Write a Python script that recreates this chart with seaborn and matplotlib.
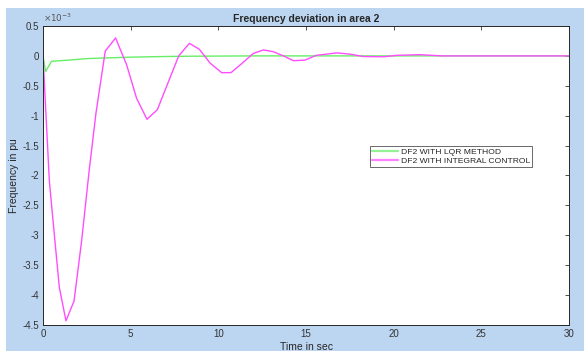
import numpy as np
import pandas as pd
import matplotlib
matplotlib.use("Agg")
import matplotlib.pyplot as plt
import seaborn as sns
from matplotlib.ticker import FuncFormatter
from matplotlib.patches import Rectangle

# -------------------------------
# Data (units of 1e-3 pu)
# -------------------------------
t_int = [0.0, 0.36, 0.49, 0.93, 1.31, 1.77, 2.2, 2.64, 3.02, 3.55, 4.14, 4.77, 5.34,
         5.93, 6.52, 7.74, 8.35, 8.92, 9.53, 10.19, 10.72, 11.33, 11.99, 12.57,
         13.14, 13.71, 14.28, 14.94, 15.6, 16.75, 17.5, 18.27, 19.4, 20.2, 21.5,
         22.8, 25.0, 30.0]
df_int = [0.0, -2.08, -2.5, -3.87, -4.43, -4.1, -3.1, -1.9, -0.96, 0.08, 0.3, -0.15,
          -0.71, -1.06, -0.9, 0.0, 0.21, 0.11, -0.12, -0.28, -0.28, -0.13, 0.04,
          0.1, 0.07, 0.0, -0.08, -0.07, 0.01, 0.05, 0.03, -0.01, -0.015, 0.01,
          0.02, 0.0, 0.0, 0.0]

t_lqr = [0.0, 0.15, 0.49, 1.5, 2.5, 4.0, 5.15, 7.0, 8.5, 12.0, 30.0]
df_lqr = [0.0, -0.26, -0.09, -0.07, -0.045, -0.03, -0.02, -0.01, -0.005, 0.0, 0.0]

y_ticks = [0.5, 0, -0.5, -1, -1.5, -2, -2.5, -3, -3.5, -4, -4.5]
x_ticks = [0, 5, 10, 15, 20, 25, 30]

lqr = pd.DataFrame({"t": t_lqr, "df": np.array(df_lqr) * 1e-3})
integ = pd.DataFrame({"t": t_int, "df": np.array(df_int) * 1e-3})

# -------------------------------
# Plot
# -------------------------------
sns.set_style("white")
plt.rcParams["font.family"] = ["Liberation Sans", "DejaVu Sans"]

fig = plt.figure(figsize=(5.84, 3.51), dpi=100, facecolor="white")
fig.patches.append(Rectangle((6 / 584, 0), 1, (351 - 8) / 351, transform=fig.transFigure,
                             facecolor="#bcd6f2", edgecolor="none", zorder=-10))
ax = fig.add_axes([43 / 584, 1 - 325 / 351, (569 - 43) / 584, (325 - 26) / 351])
ax.set_facecolor("white")

sns.lineplot(data=lqr, x="t", y="df", ax=ax, color="#66ee66", linewidth=1,
             label="DF2 WITH LQR METHOD", estimator=None, sort=False)
sns.lineplot(data=integ, x="t", y="df", ax=ax, color="#ff4cff", linewidth=1,
             label="DF2 WITH INTEGRAL CONTROL", estimator=None, sort=False)

ax.set_xlim(0, 30)
ax.set_ylim(-4.5e-3, 0.5e-3)
ax.set_xticks(x_ticks)
ax.set_yticks([v * 1e-3 for v in y_ticks])
ax.yaxis.set_major_formatter(FuncFormatter(lambda v, p: f"{v * 1e3:g}"))
ax.tick_params(direction="in", length=3, width=0.6, labelsize=7, colors="#333333",
               top=True, right=True, pad=3)
for s in ax.spines.values():
    s.set_color("#262626")
    s.set_linewidth(0.7)

ax.text(0.0, 1.008, r"$\times10^{-3}$", transform=ax.transAxes, fontsize=6.3,
        color="#555555", ha="left", va="bottom")
ax.set_title("Frequency deviation in area 2", fontsize=7.5, fontweight="bold", pad=3)
ax.set_xlabel("Time in sec", fontsize=7.5, labelpad=2)
ax.set_ylabel("Frequency in pu", fontsize=7.5, labelpad=2)

leg = ax.legend(loc="upper left", bbox_to_anchor=(327 / 526, 1 - (145.7 - 26) / 299),
                fontsize=6.1, frameon=True, fancybox=False, borderpad=0.25,
                handlelength=3.0, handletextpad=0.4, labelspacing=0.1,
                borderaxespad=0)
leg.get_frame().set_edgecolor("#262626")
leg.get_frame().set_linewidth(0.6)
for line in leg.get_lines():
    line.set_linewidth(1.6)
    line.set_alpha(0.7)

fig.savefig("out.png", dpi=100, facecolor=fig.get_facecolor())
